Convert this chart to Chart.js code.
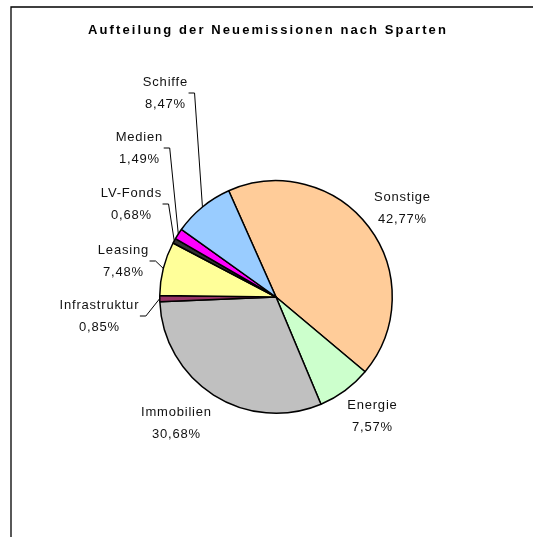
<!DOCTYPE html>
<html>
<head>
<meta charset="utf-8">
<script src="https://cdn.jsdelivr.net/npm/chart.js@4/dist/chart.umd.min.js"></script>
<style>
	html, body { margin: 0; padding: 0; background: #fff; }
	canvas { display: block; }
</style>
</head>
<body>
<canvas id="pie" width="533" height="537"></canvas>
<script>
const TITEL = 'Aufteilung der Neuemissionen nach Sparten'

const SPARTEN = [
	'Sonstige',
	'Energie',
	'Immobilien',
	'Infrastruktur',
	'Leasing',
	'LV-Fonds',
	'Medien',
	'Schiffe'
]

const ANTEILE = [42.77, 7.57, 30.68, 0.85, 7.48, 0.68, 1.49, 8.47]

const FARBEN = ['#FFCC99', '#CCFFCC', '#C0C0C0', '#993366', '#FFFF99', '#333333', '#FF00FF', '#99CCFF']

// where the labels sit (centre of text block, first line) and whether a leader line is drawn
const LABEL_POS = [
	[402, 197, false],
	[372, 405, false],
	[176, 412, false],
	[99, 305, true],
	[123, 250, true],
	[131, 193, true],
	[139, 137, true],
	[165, 82, true]
]

const fmt = v => v.toFixed(2).replace('.', ',') + '%'

const beschriftung = {
	id: 'beschriftung',
	afterDatasetsDraw(chart) {
		const ctx = chart.ctx
		ctx.save()

		// frame lines
		ctx.strokeStyle = '#000'
		ctx.lineWidth = 1.3
		ctx.beginPath()
		ctx.moveTo(11, 537)
		ctx.lineTo(11, 7)
		ctx.lineTo(533, 7)
		ctx.stroke()

		// title
		ctx.fillStyle = '#000'
		ctx.font = 'bold 13px "Liberation Sans", Arial, sans-serif'
		ctx.letterSpacing = '2.1px'
		ctx.textAlign = 'center'
		ctx.textBaseline = 'middle'
		ctx.fillText(TITEL, 268, 30)

		// labels
		ctx.font = '13px "Liberation Sans", Arial, sans-serif'
		ctx.letterSpacing = '0.8px'
		ctx.fillStyle = '#111'
		const arcs = chart.getDatasetMeta(0).data
		arcs.forEach((arc, i) => {
			const [x, y, leader] = LABEL_POS[i]
			const l1 = SPARTEN[i]
			const l2 = fmt(ANTEILE[i])
			ctx.fillText(l1, x + 0.4, y)
			ctx.fillText(l2, x + 0.4, y + 22)
			if (leader) {
				const w = Math.max(ctx.measureText(l1).width, ctx.measureText(l2).width)
				const sx = x + w / 2 + 1
				const sy = y + 11
				const p = arc.getProps(['x', 'y', 'startAngle', 'endAngle', 'outerRadius'], true)
				const mid = (p.startAngle + p.endAngle) / 2
				const ex = p.x + Math.cos(mid) * p.outerRadius
				const ey = p.y + Math.sin(mid) * p.outerRadius
				ctx.strokeStyle = '#000'
				ctx.lineWidth = 1
				ctx.beginPath()
				ctx.moveTo(sx, sy)
				ctx.lineTo(sx + 6, sy)
				ctx.lineTo(ex, ey)
				ctx.stroke()
			}
		})
		ctx.restore()
	}
}

const data_pie = {
	labels: SPARTEN,
	datasets: [
		{
			data: ANTEILE,
			backgroundColor: FARBEN,
			borderColor: '#000',
			borderWidth: 1.5,
		}
	]
}

const config_pie = {
	type: 'pie',
	data: data_pie,
	options: {
		responsive: false,
		animation: false,
		rotation: -24,
		layout: {
			padding: { left: 159, right: 140, top: 180, bottom: 123 }
		},
		plugins: {
			legend: { display: false },
			title: { display: false },
			tooltip: { enabled: false }
		}
	},
	plugins: [beschriftung]
}

const pie = new Chart(
	document.getElementById('pie'),
	config_pie
)
</script>
</body>
</html>
